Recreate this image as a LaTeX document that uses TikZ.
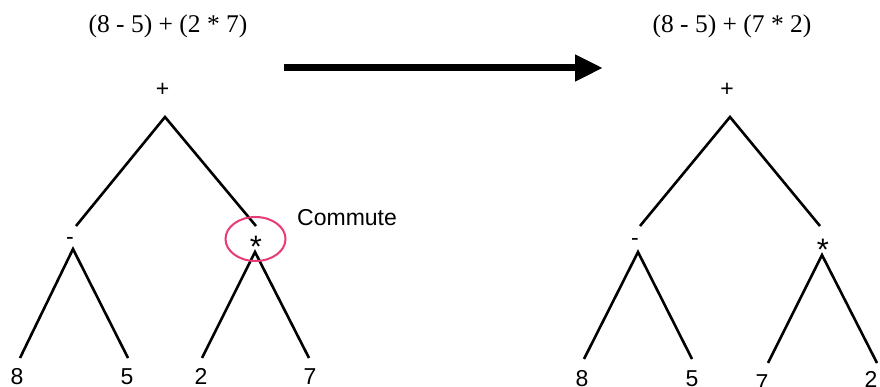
\documentclass[tikz,border=0pt]{standalone}
\usepackage{fontspec}
\setmainfont{Liberation Serif}
\setsansfont{Liberation Sans}
\usetikzlibrary{arrows.meta}
\definecolor{circpink}{RGB}{232,58,118}

\begin{document}
\begin{tikzpicture}[x=1pt,y=-1pt,
    lbl/.style={font=\sffamily\fontsize{23}{27}\selectfont, inner sep=0pt, anchor=base},
    star/.style={lbl, scale=1.35},
    ttl/.style={font=\rmfamily\fontsize{25.5}{30}\selectfont, inner sep=0pt, anchor=base},
    branch/.style={line width=2.6pt, line join=miter}]
        \useasboundingbox (0,0) rectangle (880,387);
        % titles
        \node[ttl] (exprL) at (168,33) {(8 - 5) + (2 * 7)};
        \node[ttl] (exprR) at (732,33) {(8 - 5) + (7 * 2)};
        % big arrow
        \coordinate (arrS) at (284,68);
        \coordinate (arrE) at (603,68);
        \draw[line width=7pt, -{Triangle[length=28pt,width=25pt]}] (arrS) -- (arrE);
        % left tree labels
        \node[lbl] (plusL) at (162.5,97) {+};
        \node[lbl] (minusL) at (70,244.5) {-};
        \node[star] (timesL) at (256,257.5) {*};
        \node[lbl] (eightL) at (17,384) {8};
        \node[lbl] (fiveL) at (127,384) {5};
        \node[lbl] (twoL) at (201,384) {2};
        \node[lbl] (sevenL) at (310,384) {7};
        % left tree branches
        \coordinate (pL) at (165,117);
        \coordinate (mL) at (73,249);
        \coordinate (tL) at (255,252);
        \draw[branch] (76,226) -- (pL) -- (256,226);
        \draw[branch] (20,358) -- (mL) -- (128,358);
        \draw[branch] (202,358) -- (tL) -- (309,358);
        % commute mark
        \draw[circpink, line width=2pt] (255.5,239) ellipse (30 and 22);
        \node[lbl, anchor=base west] (commute) at (297,226) {Commute};
        % right tree labels
        \node[lbl] (plusR) at (727,97) {+};
        \node[lbl] (minusR) at (635,245.5) {-};
        \node[star] (timesR) at (823,261) {*};
        \node[lbl] (eightR) at (582,386) {8};
        \node[lbl] (fiveR) at (692,386) {5};
        \node[lbl] (sevenR) at (762,390) {7};
        \node[lbl] (twoR) at (871,387.5) {2};
        % right tree branches
        \coordinate (pR) at (730,117);
        \coordinate (mR) at (638,252);
        \coordinate (tR) at (822,255);
        \draw[branch] (640,226) -- (pR) -- (820,226);
        \draw[branch] (584,359) -- (mR) -- (692,359);
        \draw[branch] (768,363) -- (tR) -- (877,363);
      \end{tikzpicture}
\end{document}
